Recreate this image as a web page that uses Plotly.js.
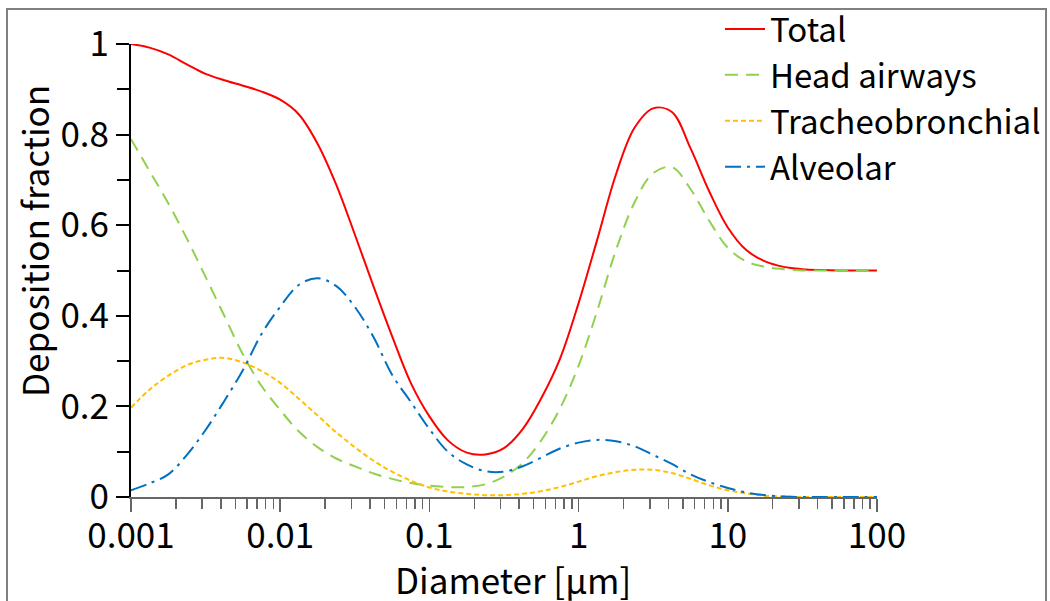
<!DOCTYPE html>
<html>
<head>
<meta charset="utf-8">
<script src="https://cdn.plot.ly/plotly-3.0.1.min.js"></script>
<style>html,body{margin:0;padding:0;background:#fff;}#chart{width:1050px;height:601px;}</style>
</head>
<body>
<div id="chart"></div>
<script>
// Particle diameter [µm] (log-spaced reading grid)
const diameter = [
  0.001, 0.00133, 0.00178, 0.00237, 0.00316, 0.00422, 0.00562, 0.0075,
  0.01, 0.0133, 0.0178, 0.0237, 0.0316, 0.0422, 0.0562, 0.075,
  0.1, 0.133, 0.178, 0.237, 0.316, 0.422, 0.562, 0.75,
  1, 1.33, 1.78, 2.37, 3.16, 4.22, 5.62, 7.5,
  10, 13.3, 17.8, 23.7, 31.6, 42.2, 56.2, 75, 100
];
const total = [
  1.000, 0.992, 0.977, 0.955, 0.934, 0.920, 0.908, 0.895,
  0.877, 0.845, 0.780, 0.690, 0.580, 0.465, 0.355, 0.252,
  0.178, 0.125, 0.098, 0.094, 0.108, 0.150, 0.218, 0.305,
  0.428, 0.567, 0.712, 0.815, 0.858, 0.850, 0.770, 0.675,
  0.595, 0.545, 0.520, 0.508, 0.503, 0.501, 0.500, 0.500, 0.500
];
const headAirways = [
  0.790, 0.720, 0.648, 0.570, 0.486, 0.400, 0.315, 0.245,
  0.192, 0.145, 0.110, 0.085, 0.068, 0.052, 0.040, 0.031,
  0.025, 0.022, 0.022, 0.028, 0.045, 0.075, 0.125, 0.195,
  0.290, 0.410, 0.545, 0.650, 0.715, 0.728, 0.680, 0.610,
  0.550, 0.520, 0.508, 0.503, 0.500, 0.500, 0.500, 0.500, 0.500
];
const tracheobronchial = [
  0.197, 0.237, 0.268, 0.291, 0.303, 0.307, 0.297, 0.278,
  0.252, 0.217, 0.180, 0.143, 0.110, 0.080, 0.056, 0.036,
  0.021, 0.012, 0.007, 0.004, 0.004, 0.007, 0.013, 0.022,
  0.034, 0.046, 0.055, 0.060, 0.060, 0.053, 0.040, 0.026,
  0.015, 0.008, 0.003, 0.001, 0.000, 0.000, 0.000, 0.000, 0.000
];
const alveolar = [
  0.015, 0.030, 0.050, 0.093, 0.148, 0.212, 0.280, 0.360,
  0.420, 0.468, 0.483, 0.466, 0.420, 0.353, 0.270, 0.210,
  0.150, 0.100, 0.072, 0.057, 0.056, 0.068, 0.087, 0.107,
  0.120, 0.126, 0.123, 0.112, 0.093, 0.073, 0.050, 0.033,
  0.020, 0.010, 0.004, 0.001, 0.000, 0.000, 0.000, 0.000, 0.000
];
const seriesNames = ["Total", "Head airways", "Tracheobronchial", "Alveolar"];
const xTickVals = [0.001, 0.01, 0.1, 1, 10, 100];
const xTickText = ["0.001", "0.01", "0.1", "1", "10", "100"];
const yTickVals = [0, 0.2, 0.4, 0.6, 0.8, 1];
const yTickText = ["0", "0.2", "0.4", "0.6", "0.8", "1"];
const yMinorVals = [0.1, 0.3, 0.5, 0.7, 0.9];

const xMinorVals = [];
for (const dec of [0.001, 0.01, 0.1, 1, 10]) {
  for (let k = 2; k <= 9; k++) xMinorVals.push(dec * k);
}

const FONT = '"Noto Sans CJK KR", "Noto Sans", sans-serif';
const FS = 35;
const LFS = 33;

const styles = [
  {color: '#ff0000', dash: 'solid'},
  {color: '#92d050', dash: '13px,8px'},
  {color: '#ffc000', dash: '5px,3px'},
  {color: '#0070c0', dash: '16px,6px,3px,6px'}
];
const ys = [total, headAirways, tracheobronchial, alveolar];

const traces = ys.map((y, i) => ({
  x: diameter, y: y, type: 'scatter', mode: 'lines', name: seriesNames[i],
  line: {color: styles[i].color, dash: styles[i].dash, width: 2, shape: 'spline', smoothing: 1}
}));

const L = 131, R = 877, T = 44, B = 497, W = 1050, H = 601;
const px2x = p => (p - L) / (R - L);
const py2y = p => (B - p) / (B - T);

const layout = {
  width: W, height: H,
  margin: {l: L, r: W - R, t: T, b: H - B, pad: 0, autoexpand: false},
  paper_bgcolor: '#fff', plot_bgcolor: '#fff',
  font: {family: FONT, size: FS, color: '#000'},
  showlegend: true,
  legend: {
    x: px2x(720), y: py2y(1), xanchor: 'left', yanchor: 'top',
    bgcolor: 'rgba(0,0,0,0)', borderwidth: 0,
    font: {family: FONT, size: LFS, color: '#000'},
    itemwidth: 40, tracegroupgap: 0
  },
  xaxis: {
    type: 'log', range: [-3, 2],
    tickvals: xTickVals, ticktext: xTickText,
    ticks: 'outside', ticklen: 13, tickwidth: 1.5, tickcolor: '#666',
    showline: true, linecolor: '#666', linewidth: 1.5,
    showgrid: false, zeroline: false, layer: 'below traces', automargin: false,
    ticklabelstandoff: -6,
    tickfont: {family: FONT, size: FS, color: '#000'},
    minor: {tickvals: xMinorVals, ticks: 'outside', ticklen: 10, tickwidth: 1.5, tickcolor: '#666', showgrid: false}
  },
  yaxis: {
    range: [0, 1],
    tickvals: yTickVals, ticktext: yTickText,
    ticks: 'outside', ticklen: 13, tickwidth: 2, tickcolor: '#000',
    showline: true, linecolor: '#000', linewidth: 2,
    showgrid: false, zeroline: false, layer: 'below traces', automargin: false,
    tickfont: {family: FONT, size: FS, color: '#000'},
    minor: {tickvals: yMinorVals, ticks: 'outside', ticklen: 12, tickwidth: 2, tickcolor: '#000', showgrid: false}
  },
  annotations: [
    {text: 'Deposition fraction', xref: 'paper', yref: 'paper', x: px2x(33), y: py2y(241),
     xanchor: 'center', yanchor: 'middle', textangle: -90, showarrow: false,
     font: {family: FONT, size: FS, color: '#000'}},
    {text: 'Diameter [µm]', xref: 'paper', yref: 'paper', x: px2x(513), y: py2y(578),
     xanchor: 'center', yanchor: 'middle', showarrow: false,
     font: {family: FONT, size: FS, color: '#000'}}
  ],
  shapes: [
    {type: 'rect', xref: 'paper', yref: 'paper', layer: 'above',
     x0: px2x(7), x1: px2x(1046), y0: py2y(640), y1: py2y(9),
     line: {color: '#808080', width: 2}, fillcolor: 'rgba(0,0,0,0)'}
  ]
};

Plotly.newPlot('chart', traces, layout, {staticPlot: true, displayModeBar: false});
</script>
</body>
</html>
